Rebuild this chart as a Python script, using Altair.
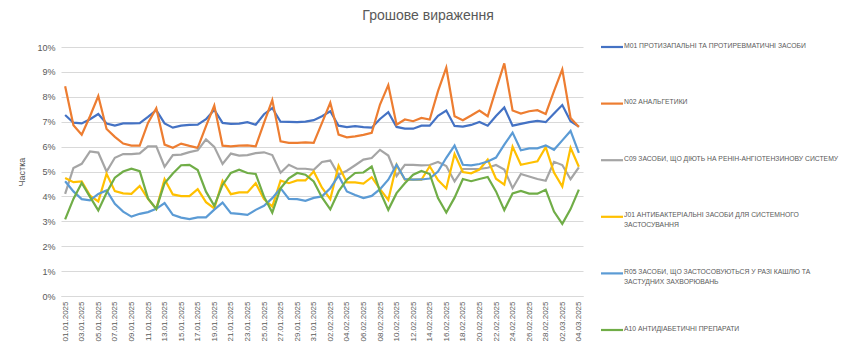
import altair as alt
import pandas as pd

dates = [d.strftime('%d.%m.%Y') for d in pd.date_range('2025-01-01', '2025-03-04')]

series = [
    "M01 ПРОТИЗАПАЛЬНІ ТА ПРОТИРЕВМАТИЧНІ ЗАСОБИ",
    "N02 АНАЛЬГЕТИКИ",
    "C09 ЗАСОБИ, ЩО ДІЮТЬ НА РЕНІН-АНГІОТЕНЗИНОВУ СИСТЕМУ",
    "J01 АНТИБАКТЕРІАЛЬНІ ЗАСОБИ ДЛЯ СИСТЕМНОГО ЗАСТОСУВАННЯ",
    "R05 ЗАСОБИ, ЩО ЗАСТОСОВУЮТЬСЯ У РАЗІ КАШЛЮ ТА ЗАСТУДНИХ ЗАХВОРЮВАНЬ",
    "A10 АНТИДІАБЕТИЧНІ ПРЕПАРАТИ",
]
legend_labels = [
    "M01 ПРОТИЗАПАЛЬНІ ТА ПРОТИРЕВМАТИЧНІ ЗАСОБИ",
    "N02 АНАЛЬГЕТИКИ",
    "C09 ЗАСОБИ, ЩО ДІЮТЬ НА РЕНІН-АНГІОТЕНЗИНОВУ СИСТЕМУ",
    "J01 АНТИБАКТЕРІАЛЬНІ ЗАСОБИ ДЛЯ СИСТЕМНОГО\nЗАСТОСУВАННЯ",
    "R05 ЗАСОБИ, ЩО ЗАСТОСОВУЮТЬСЯ У РАЗІ КАШЛЮ ТА\nЗАСТУДНИХ ЗАХВОРЮВАНЬ",
    "A10 АНТИДІАБЕТИЧНІ ПРЕПАРАТИ",
]
colors = ["#4472C4", "#ED7D31", "#A5A5A5", "#FFC000", "#5B9BD5", "#70AD47"]

m01 = [7.27, 6.96, 6.93, 7.10, 7.31, 6.93, 6.84, 6.93, 6.93, 6.94, 7.19, 7.46, 6.93, 6.76, 6.84, 6.87,
       6.88, 7.10, 7.48, 6.95, 6.91, 6.92, 6.98, 6.88, 7.30, 7.55, 7.00, 6.99, 6.98, 7.00, 7.06, 7.22,
       7.42, 6.84, 6.78, 6.82, 6.78, 6.76, 7.11, 7.38, 6.79, 6.72, 6.72, 6.84, 6.84, 7.24, 7.45, 6.83,
       6.80, 6.87, 6.99, 6.84, 7.23, 7.57, 6.84, 6.91, 6.98, 7.03, 6.98, 7.33, 7.67, 7.02, 6.80]
n02 = [8.42, 6.86, 6.48, 7.22, 8.03, 6.71, 6.39, 6.12, 6.04, 6.04, 6.95, 7.54, 6.08, 5.95, 6.12, 6.03,
       5.95, 6.82, 7.65, 6.04, 6.01, 6.04, 6.05, 6.01, 6.95, 7.87, 6.21, 6.15, 6.15, 6.17, 6.15, 6.95,
       7.76, 6.48, 6.37, 6.41, 6.47, 6.55, 7.69, 8.47, 6.88, 7.09, 7.02, 7.15, 7.09, 8.23, 9.17, 7.22,
       7.06, 7.25, 7.45, 7.22, 8.30, 9.34, 7.45, 7.33, 7.42, 7.46, 7.31, 8.23, 9.10, 7.15, 6.79]
c09 = [4.10, 5.14, 5.31, 5.81, 5.76, 5.00, 5.55, 5.70, 5.70, 5.73, 6.01, 6.01, 5.19, 5.66, 5.68, 5.78,
       5.85, 6.29, 5.99, 5.30, 5.72, 5.64, 5.66, 5.74, 5.77, 5.66, 4.95, 5.27, 5.11, 5.11, 5.07, 5.38,
       5.44, 4.87, 5.03, 5.25, 5.48, 5.54, 5.87, 5.64, 4.82, 5.27, 5.27, 5.25, 5.26, 5.38, 5.22, 4.60,
       5.10, 5.10, 5.10, 5.15, 5.26, 5.08, 4.33, 4.90, 4.80, 4.70, 4.63, 5.39, 5.26, 4.69, 5.17]
j01 = [4.74, 4.57, 4.60, 4.03, 3.80, 4.91, 4.21, 4.12, 4.10, 4.42, 3.90, 3.50, 4.69, 4.08, 4.01, 4.01,
       4.29, 3.77, 3.52, 4.62, 4.09, 4.16, 4.16, 4.53, 3.89, 3.59, 4.63, 4.53, 4.64, 4.64, 5.00, 4.35,
       3.89, 5.23, 4.56, 4.56, 4.51, 4.77, 4.29, 3.86, 5.27, 4.67, 4.67, 4.67, 5.21, 4.66, 4.32, 5.70,
       4.98, 4.93, 5.08, 5.48, 4.71, 4.47, 6.00, 5.27, 5.34, 5.41, 5.98, 4.96, 4.40, 5.95, 5.19]
r05 = [4.61, 4.20, 3.89, 3.84, 4.10, 4.24, 3.70, 3.39, 3.19, 3.30, 3.37, 3.50, 3.73, 3.26, 3.15, 3.09,
       3.16, 3.16, 3.47, 3.75, 3.33, 3.30, 3.26, 3.46, 3.62, 3.93, 4.33, 3.90, 3.89, 3.82, 3.94, 4.00,
       4.33, 4.83, 4.20, 4.06, 3.93, 4.02, 4.29, 4.67, 5.27, 4.69, 4.67, 4.68, 4.72, 5.00, 5.55, 6.04,
       5.27, 5.25, 5.30, 5.40, 5.56, 6.08, 6.56, 5.85, 5.93, 5.93, 6.05, 5.87, 6.25, 6.63, 5.75]
a10 = [3.08, 3.90, 4.54, 3.98, 3.44, 4.15, 4.75, 5.00, 5.11, 5.01, 3.92, 3.50, 4.53, 4.92, 5.25, 5.27,
       5.06, 4.19, 3.62, 4.46, 4.94, 5.07, 4.94, 4.90, 3.99, 3.35, 4.33, 4.73, 4.94, 4.87, 4.60, 3.96,
       3.48, 4.20, 4.67, 4.94, 4.96, 5.20, 4.20, 3.46, 4.13, 4.53, 4.87, 5.02, 4.90, 3.93, 3.35, 3.95,
       4.70, 4.61, 4.70, 4.78, 4.20, 3.45, 4.12, 4.22, 4.11, 4.11, 4.27, 3.39, 2.90, 3.49, 4.27]

y_ticks = [0, 0.01, 0.02, 0.03, 0.04, 0.05, 0.06, 0.07, 0.08, 0.09, 0.10]

rows = []
for name, vals in zip(series, [m01, n02, c09, j01, r05, a10]):
    for d, v in zip(dates, vals):
        rows.append({"date": d, "series": name, "value": v / 100})
df = pd.DataFrame(rows)

leg_df = pd.DataFrame({"series": series, "label": legend_labels, "row": list(range(len(series)))})

FONT = "Liberation Sans"
GREY_TXT = "#595959"
color_scale = alt.Scale(domain=series, range=colors)

main = alt.Chart(df).mark_line(strokeWidth=2.2).encode(
    x=alt.X("date:O", sort=dates, scale=alt.Scale(type="point", padding=0.5),
            axis=alt.Axis(values=dates[::2], labelAngle=-90, title=None, ticks=False,
                          domainColor="#D9D9D9", labelFontSize=8, labelColor=GREY_TXT,
                          labelPadding=5, labelFont=FONT)),
    y=alt.Y("value:Q", scale=alt.Scale(domain=[0, 0.1]),
            axis=alt.Axis(values=y_ticks, format=".0%", title="Частка", domain=False, ticks=False,
                          gridColor="#D9D9D9", labelFontSize=9, labelColor=GREY_TXT, labelPadding=6,
                          titleFontSize=9, titleFontWeight="normal", titleColor=GREY_TXT,
                          titlePadding=10, labelFont=FONT, titleFont=FONT)),
    color=alt.Color("series:N", scale=color_scale, legend=None),
).properties(width=522, height=249)

leg_base = alt.Chart(leg_df).encode(
    y=alt.Y("row:O", axis=None, scale=alt.Scale(type="point", padding=0))
)
leg_sym = leg_base.mark_rule(strokeWidth=2.2).encode(
    x=alt.value(0), x2=alt.value(22),
    color=alt.Color("series:N", scale=color_scale, legend=None),
)
leg_txt = leg_base.mark_text(align="left", baseline="top", dy=-4.5, lineBreak="\n", fontSize=6.8,
                             font=FONT, color=GREY_TXT, lineHeight=10).encode(
    x=alt.value(23), text="label:N"
)
legend = (leg_sym + leg_txt).properties(width=222, height=283)

chart = alt.hconcat(main, legend, spacing=15).properties(
    title=alt.Title("Грошове вираження", fontSize=14, fontWeight="normal", color=GREY_TXT,
                    font=FONT, anchor="middle", offset=14, dy=-6),
    padding={"left": 9, "top": 0, "right": 0, "bottom": 0},
).configure_view(stroke=None)

chart.save("out.html", embed_options={"renderer": "svg", "actions": False})
